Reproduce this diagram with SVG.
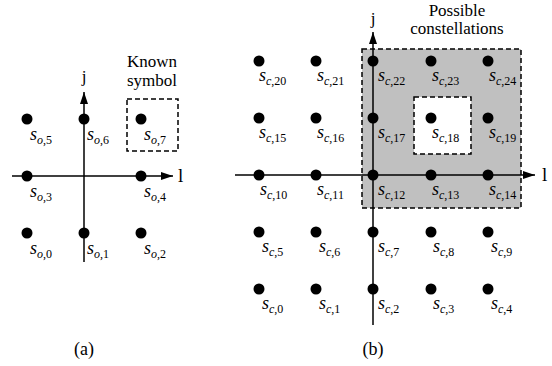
<svg xmlns="http://www.w3.org/2000/svg" width="552" height="366" viewBox="0 0 552 366" font-family="'Liberation Serif', 'Times New Roman', 'DejaVu Serif', serif">
<style>
.dot{fill:#000}
.ax{stroke:#000;stroke-width:1.5;fill:none}
.dash{stroke:#000;stroke-width:1.5;stroke-dasharray:5,3}
text{font-family:'Liberation Serif','Times New Roman','DejaVu Serif',serif;fill:#000}
.lb{font-size:18px;font-style:italic}
.sb{font-size:12px}
.up{font-style:normal}
.t{font-size:17px;text-anchor:middle}
</style>
<defs>
<marker id="arr" viewBox="0 0 12 8" refX="12" refY="4" markerWidth="12" markerHeight="8" markerUnits="userSpaceOnUse" orient="auto">
<path d="M0,0 L12,4 L0,8 z" fill="#000"/>
</marker>
</defs>
<rect width="552" height="366" fill="#fff"/>
<g id="regions">
<rect x="127" y="99" width="51" height="52" fill="none" class="dash"/>
<rect x="362" y="49" width="159" height="159" fill="#c0c0c0" class="dash"/>
<rect x="414" y="97" width="57" height="57" fill="#fff" class="dash"/>
</g>
<g id="connectors">
<line class="ax" x1="12" y1="176" x2="173" y2="176" marker-end="url(#arr)"/>
<line class="ax" x1="84" y1="262" x2="84" y2="92" marker-end="url(#arr)"/>
<line class="ax" x1="235" y1="175" x2="535" y2="175" marker-end="url(#arr)"/>
<line class="ax" x1="373" y1="325" x2="373" y2="32" marker-end="url(#arr)"/>
</g>
<g id="axis-labels">
<text class="t" x="84" y="82" font-size="18">j</text>
<text x="178" y="182" font-size="19">l</text>
<text class="t" x="373" y="24" font-size="18">j</text>
<text x="542" y="181" font-size="19">l</text>
<text class="t" x="152" y="67">Known</text>
<text class="t" x="152" y="86">symbol</text>
<text class="t" x="457" y="16">Possible</text>
<text class="t" x="457" y="34">constellations</text>
<text class="t" x="84" y="355" style="font-size:18px">(a)</text>
<text class="t" x="373" y="355" style="font-size:18px">(b)</text>
</g>
<g id="panel-a">
<g id="so0"><circle class="dot" cx="27" cy="233" r="5.5"/><text class="lb" x="30" y="254">s<tspan class="sb" dy="4">o<tspan class="up">,0</tspan></tspan></text></g>
<g id="so1"><circle class="dot" cx="84" cy="233" r="5.5"/><text class="lb" x="87" y="254">s<tspan class="sb" dy="4">o<tspan class="up">,1</tspan></tspan></text></g>
<g id="so2"><circle class="dot" cx="141" cy="233" r="5.5"/><text class="lb" x="144" y="254">s<tspan class="sb" dy="4">o<tspan class="up">,2</tspan></tspan></text></g>
<g id="so3"><circle class="dot" cx="27" cy="176" r="5.5"/><text class="lb" x="30" y="197">s<tspan class="sb" dy="4">o<tspan class="up">,3</tspan></tspan></text></g>
<g id="so4"><circle class="dot" cx="141" cy="176" r="5.5"/><text class="lb" x="144" y="197">s<tspan class="sb" dy="4">o<tspan class="up">,4</tspan></tspan></text></g>
<g id="so5"><circle class="dot" cx="27" cy="119" r="5.5"/><text class="lb" x="30" y="140">s<tspan class="sb" dy="4">o<tspan class="up">,5</tspan></tspan></text></g>
<g id="so6"><circle class="dot" cx="84" cy="119" r="5.5"/><text class="lb" x="87" y="140">s<tspan class="sb" dy="4">o<tspan class="up">,6</tspan></tspan></text></g>
<g id="so7"><circle class="dot" cx="141" cy="119" r="5.5"/><text class="lb" x="144" y="140">s<tspan class="sb" dy="4">o<tspan class="up">,7</tspan></tspan></text></g>
</g>
<g id="panel-b">
<g id="sc20"><circle class="dot" cx="259" cy="61" r="5.5"/><text class="lb" x="259" y="81">s<tspan class="sb" dy="4">c<tspan class="up">,20</tspan></tspan></text></g>
<g id="sc21"><circle class="dot" cx="316" cy="61" r="5.5"/><text class="lb" x="317" y="81">s<tspan class="sb" dy="4">c<tspan class="up">,21</tspan></tspan></text></g>
<g id="sc22"><circle class="dot" cx="373" cy="61" r="5.5"/><text class="lb" x="378" y="81">s<tspan class="sb" dy="4">c<tspan class="up">,22</tspan></tspan></text></g>
<g id="sc23"><circle class="dot" cx="431" cy="61" r="5.5"/><text class="lb" x="432" y="81">s<tspan class="sb" dy="4">c<tspan class="up">,23</tspan></tspan></text></g>
<g id="sc24"><circle class="dot" cx="488" cy="61" r="5.5"/><text class="lb" x="489" y="81">s<tspan class="sb" dy="4">c<tspan class="up">,24</tspan></tspan></text></g>
<g id="sc15"><circle class="dot" cx="259" cy="118" r="5.5"/><text class="lb" x="259" y="138">s<tspan class="sb" dy="4">c<tspan class="up">,15</tspan></tspan></text></g>
<g id="sc16"><circle class="dot" cx="316" cy="118" r="5.5"/><text class="lb" x="317" y="138">s<tspan class="sb" dy="4">c<tspan class="up">,16</tspan></tspan></text></g>
<g id="sc17"><circle class="dot" cx="373" cy="118" r="5.5"/><text class="lb" x="378" y="138">s<tspan class="sb" dy="4">c<tspan class="up">,17</tspan></tspan></text></g>
<g id="sc18"><circle class="dot" cx="431" cy="118" r="5.5"/><text class="lb" x="432" y="138">s<tspan class="sb" dy="4">c<tspan class="up">,18</tspan></tspan></text></g>
<g id="sc19"><circle class="dot" cx="488" cy="118" r="5.5"/><text class="lb" x="489" y="138">s<tspan class="sb" dy="4">c<tspan class="up">,19</tspan></tspan></text></g>
<g id="sc10"><circle class="dot" cx="259" cy="175" r="5.5"/><text class="lb" x="260" y="195">s<tspan class="sb" dy="4">c<tspan class="up">,10</tspan></tspan></text></g>
<g id="sc11"><circle class="dot" cx="316" cy="175" r="5.5"/><text class="lb" x="317" y="195">s<tspan class="sb" dy="4">c<tspan class="up">,11</tspan></tspan></text></g>
<g id="sc12"><circle class="dot" cx="373" cy="175" r="5.5"/><text class="lb" x="378" y="195">s<tspan class="sb" dy="4">c<tspan class="up">,12</tspan></tspan></text></g>
<g id="sc13"><circle class="dot" cx="431" cy="175" r="5.5"/><text class="lb" x="432" y="195">s<tspan class="sb" dy="4">c<tspan class="up">,13</tspan></tspan></text></g>
<g id="sc14"><circle class="dot" cx="488" cy="175" r="5.5"/><text class="lb" x="489" y="195">s<tspan class="sb" dy="4">c<tspan class="up">,14</tspan></tspan></text></g>
<g id="sc5"><circle class="dot" cx="259" cy="232" r="5.5"/><text class="lb" x="262" y="252">s<tspan class="sb" dy="4">c<tspan class="up">,5</tspan></tspan></text></g>
<g id="sc6"><circle class="dot" cx="316" cy="232" r="5.5"/><text class="lb" x="319" y="252">s<tspan class="sb" dy="4">c<tspan class="up">,6</tspan></tspan></text></g>
<g id="sc7"><circle class="dot" cx="373" cy="232" r="5.5"/><text class="lb" x="378" y="252">s<tspan class="sb" dy="4">c<tspan class="up">,7</tspan></tspan></text></g>
<g id="sc8"><circle class="dot" cx="431" cy="232" r="5.5"/><text class="lb" x="433" y="252">s<tspan class="sb" dy="4">c<tspan class="up">,8</tspan></tspan></text></g>
<g id="sc9"><circle class="dot" cx="488" cy="232" r="5.5"/><text class="lb" x="491" y="252">s<tspan class="sb" dy="4">c<tspan class="up">,9</tspan></tspan></text></g>
<g id="sc0"><circle class="dot" cx="259" cy="289" r="5.5"/><text class="lb" x="262" y="309">s<tspan class="sb" dy="4">c<tspan class="up">,0</tspan></tspan></text></g>
<g id="sc1"><circle class="dot" cx="316" cy="289" r="5.5"/><text class="lb" x="319" y="309">s<tspan class="sb" dy="4">c<tspan class="up">,1</tspan></tspan></text></g>
<g id="sc2"><circle class="dot" cx="373" cy="289" r="5.5"/><text class="lb" x="378" y="309">s<tspan class="sb" dy="4">c<tspan class="up">,2</tspan></tspan></text></g>
<g id="sc3"><circle class="dot" cx="431" cy="289" r="5.5"/><text class="lb" x="433" y="309">s<tspan class="sb" dy="4">c<tspan class="up">,3</tspan></tspan></text></g>
<g id="sc4"><circle class="dot" cx="488" cy="289" r="5.5"/><text class="lb" x="491" y="309">s<tspan class="sb" dy="4">c<tspan class="up">,4</tspan></tspan></text></g>
</g>
</svg>
